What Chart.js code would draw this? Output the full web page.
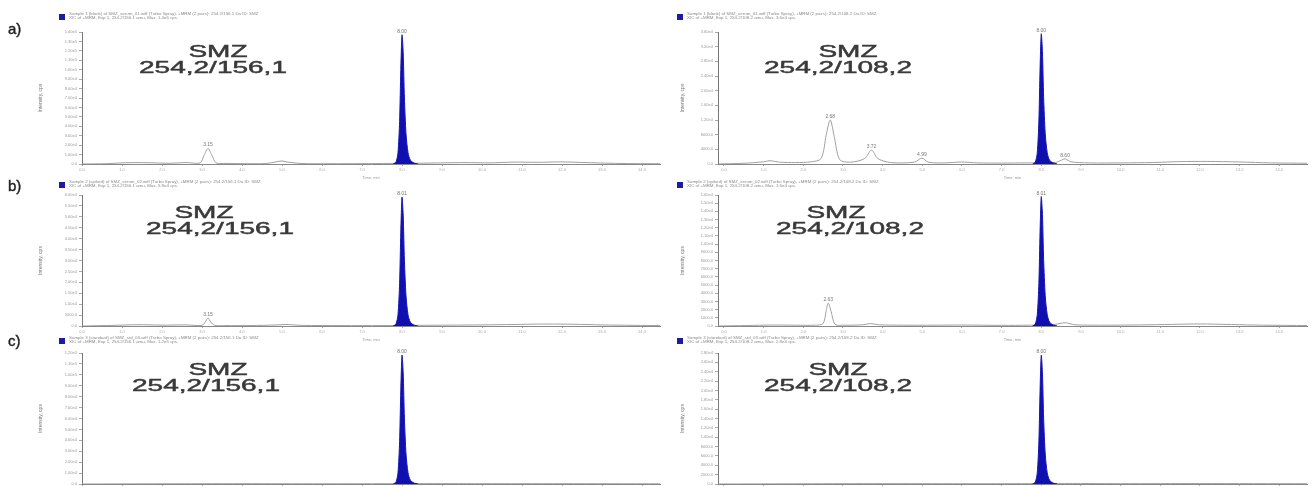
<!DOCTYPE html>
<html><head><meta charset="utf-8">
<script src="https://cdn.jsdelivr.net/npm/chart.js@4.4.1/dist/chart.umd.min.js"></script>
<style>
html,body{margin:0;padding:0;background:#fff;width:1312px;height:486px;overflow:hidden;font-family:"Liberation Sans",Arial,sans-serif}
canvas{position:absolute}
.lab{position:absolute;font-size:15px;color:#222;font-family:"Liberation Sans",Arial,sans-serif;-webkit-text-stroke:0.4px #222}
.ttl{position:absolute;color:#3a3a3a;font-size:16px;line-height:16px;text-align:center;white-space:nowrap;transform:translateX(-50%) scaleX(1.75);transform-origin:center;-webkit-text-stroke:0.45px #3a3a3a}
.leg{position:absolute;white-space:nowrap}
.leg .sq{position:absolute;left:0;top:2px;width:6px;height:6px;background:#1c1ca0}
.leg .tx{position:absolute;left:10px;top:0;font-size:8px;line-height:7px;color:#8a8a8a;transform:scale(0.55);transform-origin:0 0}
</style></head><body>
<script>
// ---------- DATA ----------
const panelLetters = ['a)', 'b)', 'c)'];
const transitionsL = ['SMZ', '254,2/156,1'];
const transitionsR = ['SMZ', '254,2/108,2'];
const legendTexts = [
  ['Sample 1 (blank) of SMZ_serum_01.wiff (Turbo Spray), +MRM (2 pairs): 254.2/156.1 Da ID: SMZ', 'XIC of +MRM, Exp 1, 254.2/156.1 amu, Max. 1.4e5 cps.'],
  ['Sample 1 (blank) of SMZ_serum_01.wiff (Turbo Spray), +MRM (2 pairs): 254.2/108.2 Da ID: SMZ', 'XIC of +MRM, Exp 1, 254.2/108.2 amu, Max. 3.6e4 cps.'],
  ['Sample 2 (spiked) of SMZ_serum_02.wiff (Turbo Spray), +MRM (2 pairs): 254.2/156.1 Da ID: SMZ', 'XIC of +MRM, Exp 1, 254.2/156.1 amu, Max. 5.9e4 cps.'],
  ['Sample 2 (spiked) of SMZ_serum_02.wiff (Turbo Spray), +MRM (2 pairs): 254.2/108.2 Da ID: SMZ', 'XIC of +MRM, Exp 1, 254.2/108.2 amu, Max. 1.6e4 cps.'],
  ['Sample 3 (standard) of SMZ_std_03.wiff (Turbo Spray), +MRM (2 pairs): 254.2/156.1 Da ID: SMZ', 'XIC of +MRM, Exp 1, 254.2/156.1 amu, Max. 1.2e5 cps.'],
  ['Sample 3 (standard) of SMZ_std_03.wiff (Turbo Spray), +MRM (2 pairs): 254.2/108.2 Da ID: SMZ', 'XIC of +MRM, Exp 1, 254.2/108.2 amu, Max. 2.8e4 cps.']
];
const xTitle = 'Time, min';
const yTitle = 'Intensity, cps';

// blue SMZ peak (retention time ~8.0 min)
const smzPeakTimes = [7.78, 7.85, 7.9, 7.94, 7.97, 8.0, 8.03, 8.06, 8.1, 8.15, 8.21, 8.3, 8.4];
const smzAL = [0, 2000, 12000, 45000, 100000, 137000, 118000, 70000, 32000, 12000, 4000, 1000, 0];
const smzAR = [0, 500, 3100, 11700, 26000, 35500, 30600, 18100, 8300, 3100, 1000, 300, 0];
const smzBL = [0, 900, 5200, 19400, 43000, 59000, 50800, 30100, 13800, 5200, 1700, 400, 0];
const smzBR = [0, 230, 1400, 5200, 11500, 15800, 13600, 8100, 3700, 1400, 460, 120, 0];
const smzCL = [0, 1700, 10300, 38800, 86000, 118000, 101600, 60300, 27600, 10300, 3400, 860, 0];
const smzCR = [0, 400, 2400, 9000, 20000, 27500, 23700, 14000, 6400, 2400, 800, 200, 0];

// gray background traces
const bgAL_t = [0, 0.6, 1.0, 1.4, 1.8, 2.2, 2.6, 2.95, 3.05, 3.15, 3.25, 3.35, 3.6, 4.0, 4.6, 4.85, 5.0, 5.15, 5.5, 6.2, 7.0, 7.7, 8.4, 9.0, 9.6, 10.2, 10.8, 11.4, 12.0, 12.6, 13.2, 13.8, 14.45];
const bgAL_v = [0, 300, 1200, 1500, 1200, 800, 1500, 1000, 9000, 16500, 9000, 1200, 600, 400, 500, 2200, 3200, 2000, 500, 300, 400, 600, 800, 1200, 1500, 1200, 2000, 1800, 2200, 1500, 800, 400, 300];
const bgAR_t = [-0.15, 0.5, 1.0, 1.16, 1.4, 1.8, 2.2, 2.45, 2.58, 2.68, 2.78, 2.92, 3.2, 3.55, 3.72, 3.88, 4.2, 4.8, 4.99, 5.15, 5.6, 5.97, 6.4, 7.0, 7.6, 8.35, 8.5, 8.6, 8.75, 9.2, 10.0, 10.8, 11.5, 12.2, 13.0, 13.8, 14.7];
const bgAR_v = [0, 200, 600, 900, 500, 400, 600, 1500, 8000, 12000, 7500, 1200, 500, 1500, 3800, 1500, 400, 500, 1600, 500, 300, 550, 300, 250, 300, 400, 1000, 1400, 600, 300, 300, 400, 650, 700, 550, 300, 200];
const bgBL_t = [0, 0.8, 1.4, 2.0, 2.6, 3.0, 3.08, 3.15, 3.22, 3.32, 3.6, 4.2, 4.9, 5.1, 5.5, 6.5, 7.5, 8.4, 9.2, 10.0, 10.8, 11.6, 12.3, 13.0, 13.8, 14.45];
const bgBL_v = [0, 300, 600, 400, 500, 300, 1800, 3700, 1800, 300, 200, 200, 500, 700, 300, 200, 200, 300, 400, 500, 700, 900, 800, 500, 300, 200];
const bgBR_t = [-0.15, 0.6, 1.2, 1.8, 2.3, 2.5, 2.58, 2.63, 2.7, 2.8, 3.0, 3.5, 3.7, 3.9, 4.5, 5.3, 6.0, 7.0, 7.7, 8.35, 8.6, 8.85, 9.5, 10.5, 11.3, 12.0, 12.8, 13.6, 14.7];
const bgBR_v = [0, 60, 120, 100, 100, 300, 1900, 2800, 1800, 200, 100, 150, 300, 150, 100, 100, 120, 80, 100, 200, 400, 150, 100, 130, 200, 250, 180, 100, 60];
const bgCL_t = [0, 2.0, 4.0, 6.0, 7.7, 8.4, 10.0, 12.0, 14.45];
const bgCL_v = [0, 200, 300, 200, 300, 400, 300, 300, 200];
const bgCR_t = [-0.15, 2.0, 4.0, 6.0, 7.7, 8.4, 10.0, 12.0, 14.7];
const bgCR_v = [0, 50, 80, 60, 80, 120, 80, 100, 60];

// retention time annotations
const rtAL_t = [3.15, 8.0], rtAL_v = [16500, 137000], rtAL_s = ['3.15', '8.00'];
const rtAR_t = [2.68, 3.72, 4.99, 8.0, 8.6], rtAR_v = [12000, 3800, 1600, 35500, 1400], rtAR_s = ['2.68', '3.72', '4.99', '8.00', '8.60'];
const rtBL_t = [3.15, 8.0], rtBL_v = [3700, 59000], rtBL_s = ['3.15', '8.01'];
const rtBR_t = [2.63, 8.0], rtBR_v = [2800, 15800], rtBR_s = ['2.63', '8.01'];
const rtCL_t = [8.0], rtCL_v = [118000], rtCL_s = ['8.00'];
const rtCR_t = [8.0], rtCR_v = [27500], rtCR_s = ['8.00'];

// axis ranges
const yMaxes = [140000, 36000, 60000, 16000, 120000, 28000];
const ySteps = [10000, 2000, 5000, 1000, 10000, 2000];

// ---------- LAYOUT ----------
const rows = [
  {top: 0, h: 180, padTop: 32},
  {top: 170, h: 172, padTop: 25},
  {top: 330, h: 170, padTop: 23}
];
const cols = [
  {left: 0, w: 665, padLeft: 38, yW: 44, xMin: 0, xMax: 14.45},
  {left: 655, w: 657, padLeft: 25, yW: 38, xMin: -0.15, xMax: 14.7}
];
const ttlXs = [[218, 213], [848, 838], [204, 220], [836, 850], [218, 206], [838, 838]];
const ttlY0 = [44, 205, 362];

const smz = [smzAL, smzAR, smzBL, smzBR, smzCL, smzCR];
const bgT = [bgAL_t, bgAR_t, bgBL_t, bgBR_t, bgCL_t, bgCR_t];
const bgV = [bgAL_v, bgAR_v, bgBL_v, bgBR_v, bgCL_v, bgCR_v];
const rtT = [rtAL_t, rtAR_t, rtBL_t, rtBR_t, rtCL_t, rtCR_t];
const rtV = [rtAL_v, rtAR_v, rtBL_v, rtBR_v, rtCL_v, rtCR_v];
const rtS = [rtAL_s, rtAR_s, rtBL_s, rtBR_s, rtCL_s, rtCR_s];

const rtPlugin = {
  id: 'rtLabels',
  afterDatasetsDraw(chart, args, opts) {
    const c = chart.ctx, xs = chart.scales.x, ys = chart.scales.y;
    c.save();
    c.font = '5px "Liberation Sans", Arial, sans-serif';
    c.fillStyle = '#777';
    c.textAlign = 'center';
    c.textBaseline = 'bottom';
    opts.t.forEach((t, i) => {
      c.fillText(opts.s[i], xs.getPixelForValue(t), ys.getPixelForValue(opts.v[i]) - 1);
    });
    c.restore();
  }
};

function fmtY(v) {
  if (v === 0) return '0.0';
  if (v >= 100000) return (v / 100000).toFixed(2) + 'e5';
  if (v >= 10000) return (v / 10000).toFixed(2) + 'e4';
  return v.toFixed(1);
}

for (let r = 0; r < 3; r++) {
  for (let c = 0; c < 2; c++) {
    const k = r * 2 + c, R = rows[r], C = cols[c];
    const cv = document.createElement('canvas');
    cv.width = C.w; cv.height = R.h;
    cv.style.left = C.left + 'px'; cv.style.top = R.top + 'px';
    document.body.appendChild(cv);
    new Chart(cv, {
      type: 'line',
      data: {
        datasets: [
          {data: smzPeakTimes.map((t, i) => ({x: t, y: smz[k][i]})), borderColor: '#1515b5', backgroundColor: '#1010b0',
           fill: 'origin', borderWidth: 1, pointRadius: 0, tension: 0.25},
          {data: bgT[k].map((t, i) => ({x: t, y: bgV[k][i]})), borderColor: '#a0a0a0', borderWidth: 1,
           fill: false, pointRadius: 0, tension: 0.3}
        ]
      },
      options: {
        responsive: false, animation: false, events: [],
        layout: {padding: {top: R.padTop, left: C.padLeft, right: 5, bottom: 0}},
        plugins: {legend: {display: false}, tooltip: {enabled: false},
                  rtLabels: {t: rtT[k], v: rtV[k], s: rtS[k]}},
        scales: {
          x: {type: 'linear', min: C.xMin, max: C.xMax,
              ticks: {stepSize: 1, includeBounds: false, font: {size: 4}, color: '#aaa', padding: 1, maxRotation: 0,
                      callback: v => v.toFixed(1)},
              grid: {display: true, drawOnChartArea: false, drawTicks: true, tickLength: 2, color: '#aaa'},
              border: {display: true, color: '#888', width: 1},
              title: {display: true, text: xTitle, font: {size: 4}, color: '#999', padding: 0},
              afterFit: s => { s.height = 16; }},
          y: {min: 0, max: yMaxes[k],
              ticks: {stepSize: ySteps[k], includeBounds: false, font: {size: 4}, color: '#999', padding: 2,
                      callback: v => fmtY(v)},
              grid: {display: true, drawOnChartArea: false, drawTicks: true, tickLength: 3, color: '#aaa'},
              border: {display: true, color: '#777', width: 1},
              title: {display: true, text: yTitle, font: {size: 5}, color: '#777', padding: 0},
              afterFit: s => { s.width = C.yW; }}
        }
      },
      plugins: [rtPlugin]
    });

    // transition title
    const t1 = document.createElement('div');
    t1.className = 'ttl'; t1.textContent = (c === 0 ? transitionsL : transitionsR)[0];
    t1.style.left = ttlXs[k][0] + 'px'; t1.style.top = ttlY0[r] + 'px';
    document.body.appendChild(t1);
    const t2 = document.createElement('div');
    t2.className = 'ttl'; t2.textContent = (c === 0 ? transitionsL : transitionsR)[1];
    t2.style.left = ttlXs[k][1] + 'px'; t2.style.top = (ttlY0[r] + 16) + 'px';
    document.body.appendChild(t2);

    // legend
    const lg = document.createElement('div');
    lg.className = 'leg';
    lg.style.left = (c === 0 ? 59 : 677) + 'px';
    lg.style.top = [12, 180, 336][r] + 'px';
    lg.innerHTML = '<div class="sq"></div><div class="tx">' + legendTexts[k][0] + '<br>' + legendTexts[k][1] + '</div>';
    document.body.appendChild(lg);
  }
  const l = document.createElement('div');
  l.className = 'lab'; l.textContent = panelLetters[r];
  l.style.left = '8px'; l.style.top = [20, 177, 332][r] + 'px';
  document.body.appendChild(l);
}
</script>
</body></html>
